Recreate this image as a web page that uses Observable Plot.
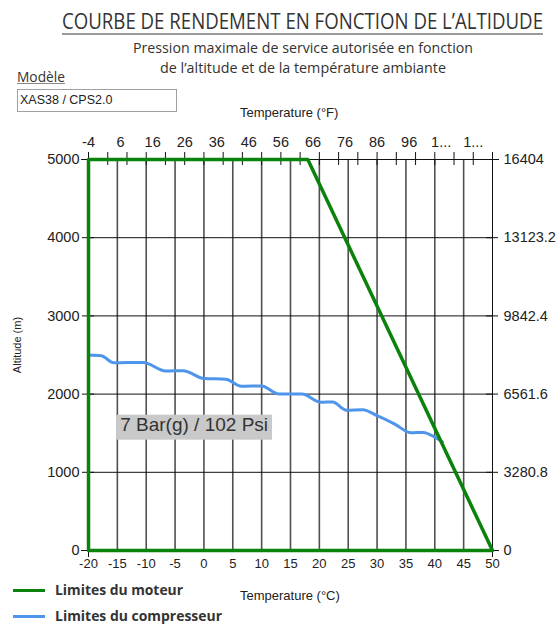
<!DOCTYPE html>
<html><head><meta charset="utf-8">
<script src="https://cdn.jsdelivr.net/npm/d3@7"></script>
<script src="https://cdn.jsdelivr.net/npm/@observablehq/plot@0.6"></script>
<style>
body{margin:0;background:#fff;}
#wrap{position:relative;width:559px;height:626px;overflow:hidden;font-family:"Liberation Sans",Arial,sans-serif;color:#222;}
#chart svg{position:absolute;left:0;top:0;}
.abs{position:absolute;white-space:nowrap;line-height:1;}
.fit{transform-origin:left top;}
.os{font-family:"Open Sans",sans-serif;color:#333;}
</style></head><body>
<div id="wrap">
  <div id="chart"></div>
  <div class="abs os fit" data-w="481" style="left:62px;top:9px;font-size:22px;">COURBE DE RENDEMENT EN FONCTION DE L’ALTIDUDE</div>
  <div class="abs" style="left:62px;top:33px;width:481px;height:2px;background:#9a9a9a;"></div>
  <div class="abs os fit" data-w="340" style="left:133px;top:41px;font-size:14.5px;">Pression maximale de service autorisée en fonction</div>
  <div class="abs os fit" data-w="286" style="left:160px;top:61px;font-size:14.5px;">de l’altitude et de la température ambiante</div>
  <div class="abs os fit" data-w="48" style="left:17px;top:70px;font-size:14.5px;text-decoration:underline;text-decoration-color:#888;">Modèle</div>
  <div class="abs" style="left:17px;top:89px;width:156px;height:21px;border:1px solid #a0a0a0;font-size:12.5px;line-height:21px;padding-left:2px;box-sizing:content-box;">XAS38 / CPS2.0</div>
  <div class="abs" style="left:240px;top:106px;font-size:13px;">Temperature (°F)</div>
  <div class="abs" style="left:240px;top:589px;font-size:13px;">Temperature (°C)</div>
  <div class="abs" style="left:17px;top:345px;font-size:11px;transform:translate(-50%,-50%) rotate(-90deg);">Altitude (m)</div>
  <div class="abs" id="lg1" style="left:13px;top:589px;width:32px;height:3px;"></div>
  <div class="abs" id="lg2" style="left:13px;top:615px;width:32px;height:3px;"></div>
  <div class="abs os fit" data-w="128" style="left:55px;top:583px;font-size:14px;font-weight:bold;">Limites du moteur</div>
  <div class="abs os fit" data-w="167" style="left:55px;top:609px;font-size:14px;font-weight:bold;">Limites du compresseur</div>
</div>
<script>
// ---- data ----
const altTicks = [0, 1000, 2000, 3000, 4000, 5000];
const altLabels = ["0", "1000", "2000", "3000", "4000", "5000"];
const feetLabels = ["0", "3280.8", "6561.6", "9842.4", "13123.2", "16404"];
const celsiusTicks = [-20, -15, -10, -5, 0, 5, 10, 15, 20, 25, 30, 35, 40, 45, 50];
const celsiusLabels = ["-20", "-15", "-10", "-5", "0", "5", "10", "15", "20", "25", "30", "35", "40", "45", "50"];
const fahrenheitLabelValues = [-4, 6, 16, 26, 36, 46, 56, 66, 76, 86, 96, 106, 116];
const fahrenheitLabels = ["-4", "6", "16", "26", "36", "46", "56", "66", "76", "86", "96", "1...", "1..."];
const fahrenheitTickValues = [-4, 2, 8, 14, 20, 26, 32, 38, 44, 50, 56, 62, 68, 74, 80, 86, 92, 98, 104, 110, 116, 122];

const engineTemp = [-20, -20, 18, 50, -20];
const engineAlt  = [0, 5000, 5000, 0, 0];

const compressorTemp = [-20, -17.8, -15.6, -10.5, -6.6, -3.6, 0, 3.8, 6.5, 10, 13, 17, 20.3, 22.3, 24.7, 27.5, 30, 33, 35.9, 38, 40, 41.3];
const compressorAlt  = [2500, 2490, 2400, 2405, 2295, 2300, 2200, 2190, 2100, 2105, 2000, 2000, 1895, 1900, 1795, 1800, 1725, 1620, 1505, 1510, 1450, 1390];

const noteText = ["7 Bar(g) / 102 Psi"];
const noteTemp = [-1.7];
const noteAlt = [1610];

const GREEN = "#0b820b";
const BLUE = "#4f95ec";
document.getElementById("lg1").style.background = GREEN;
document.getElementById("lg2").style.background = BLUE;

const toC = f => (f - 32) / 1.8;
const fMap = new Map(fahrenheitLabelValues.map((f, i) => [toC(f), fahrenheitLabels[i]]));
const engine = engineTemp.map((t, i) => ({t, a: engineAlt[i]}));
const compressor = compressorTemp.map((t, i) => ({t, a: compressorAlt[i]}));
const notes = noteText.map((s, i) => ({s, t: noteTemp[i], a: noteAlt[i]}));

const plot = Plot.plot({
  width: 559, height: 626,
  marginLeft: 88, marginRight: 67, marginTop: 159, marginBottom: 76,
  x: {domain: [-20, 50]},
  y: {domain: [0, 5000]},
  style: {fontFamily: "'Liberation Sans', Arial, sans-serif", fontSize: "14.5px", color: "#222", background: "transparent", overflow: "visible"},
  marks: [
    Plot.ruleX(celsiusTicks.slice(1, -1), {stroke: "#505050", strokeWidth: 1.6}),
    Plot.ruleY(altTicks.slice(1, -1), {stroke: "#111", strokeWidth: 1}),
    Plot.ruleX([-20, 50], {stroke: "#111", insetTop: -7, insetBottom: -7}),
    Plot.ruleY([0, 5000], {stroke: "#111", insetLeft: -7, insetRight: -7}),
    Plot.ruleY(altTicks, {x1: -20, x2: -20, insetLeft: -6, insetRight: -6, stroke: "#111"}),
    Plot.ruleY(altTicks, {x1: 50, x2: 50, insetLeft: -6, insetRight: -6, stroke: "#111"}),
    Plot.ruleX(fahrenheitTickValues, {x: d => toC(d), y1: 5000, y2: 5000, insetTop: -7, insetBottom: -6, stroke: "#111"}),
    Plot.axisY(altTicks, {anchor: "left", tickSize: 0, tickPadding: 9, label: null, fill: "#222", tickFormat: d => altLabels[altTicks.indexOf(d)]}),
    Plot.axisY(altTicks, {anchor: "right", tickSize: 0, tickPadding: 11, label: null, fill: "#222", tickFormat: d => feetLabels[altTicks.indexOf(d)]}),
    Plot.axisX(celsiusTicks, {anchor: "bottom", tickSize: 0, tickPadding: 8, label: null, fontSize: 13, fill: "#222", tickFormat: d => celsiusLabels[celsiusTicks.indexOf(d)]}),
    Plot.axisX(fahrenheitLabelValues.map(toC), {anchor: "top", tickSize: 0, tickPadding: 13, label: null, fill: "#222", tickFormat: d => fMap.get(d)}),
    Plot.line(compressor, {x: "t", y: "a", stroke: BLUE, strokeWidth: 3, curve: "monotone-x"}),
    Plot.line(engine, {x: "t", y: "a", stroke: GREEN, strokeWidth: 3.5}),
    Plot.text(notes, {x: "t", y: "a", text: "s", fontSize: 19, fill: "#333"})
  ]
});
document.getElementById("chart").appendChild(plot);

// grey background box behind the note
plot.querySelectorAll("text").forEach(t => {
  if (!noteText.includes(t.textContent)) return;
  const b = t.getBBox();
  const r = document.createElementNS("http://www.w3.org/2000/svg", "rect");
  r.setAttribute("x", b.x - 4); r.setAttribute("y", b.y + 1);
  r.setAttribute("width", b.width + 8); r.setAttribute("height", b.height + 4);
  r.setAttribute("fill", "#c9c9c9");
  const tr = t.getAttribute("transform");
  if (tr) r.setAttribute("transform", tr);
  t.parentNode.insertBefore(r, t);
});

function fit() {
  document.querySelectorAll("[data-w]").forEach(el => {
    el.style.transform = "none";
    const w = el.getBoundingClientRect().width;
    el.style.transform = `scaleX(${(+el.dataset.w) / w})`;
  });
}
fit();
if (document.fonts) document.fonts.ready.then(fit);
</script>
</body></html>
